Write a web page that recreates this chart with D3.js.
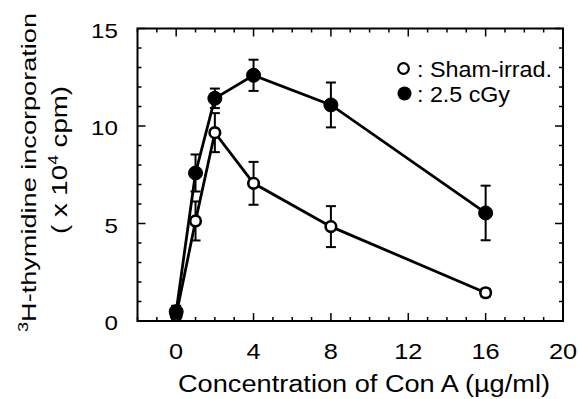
<!DOCTYPE html>
<html><head><meta charset="utf-8">
<script src="https://cdn.jsdelivr.net/npm/d3@7"></script>
<style>body{margin:0;background:#fff}svg{display:block}text{font-family:"Liberation Sans",Arial,sans-serif;fill:#000}</style>
</head><body>
<script>
const conc = [0, 1, 2, 4, 8, 16];
const shamMean = [0.3, 5.13, 9.66, 7.06, 4.84, 1.45];
const shamErr  = [0.2, 1.0, 1.0, 1.1, 1.05, 0.2];
const irrMean  = [0.48, 7.59, 11.42, 12.6, 11.08, 5.54];
const irrErr   = [0.3, 0.95, 0.5, 0.8, 1.15, 1.4];
const xTicks = [0, 4, 8, 12, 16, 20];
const yTicks = [0, 5, 10, 15];
const legendLabels = [": Sham-irrad.", ": 2.5 cGy"];

const W = 579, H = 399;
const L = 137.5, R = 563, T = 28.5, B = 321;
const svg = d3.select("body").append("svg").attr("width", W).attr("height", H);
const x = d3.scaleLinear().domain([-2, 20]).range([L, R]);
const y = d3.scaleLinear().domain([0, 15]).range([B, T]);

function stretch(sel, k) {
  sel.each(function() {
    const w = this.getComputedTextLength();
    d3.select(this).attr("textLength", w * k).attr("lengthAdjust", "spacingAndGlyphs");
  });
}

// frame
svg.append("rect").attr("x", L).attr("y", T).attr("width", R - L).attr("height", B - T)
  .attr("fill", "none").attr("stroke", "#000").attr("stroke-width", 2);

// ticks (inward on all sides)
const xMinor = d3.range(-2, 21, 1);
const yMinor = d3.range(0, 16, 1);
const g = svg.append("g").attr("stroke", "#000").attr("stroke-width", 1.5);
xMinor.forEach(v => {
  const len = (v % 4 === 0) ? 8 : 4;
  g.append("line").attr("x1", x(v)).attr("x2", x(v)).attr("y1", B).attr("y2", B - len);
  g.append("line").attr("x1", x(v)).attr("x2", x(v)).attr("y1", T).attr("y2", T + len);
});
yMinor.forEach(v => {
  const len = (v % 5 === 0) ? 8 : 4;
  g.append("line").attr("y1", y(v)).attr("y2", y(v)).attr("x1", L).attr("x2", L + len);
  g.append("line").attr("y1", y(v)).attr("y2", y(v)).attr("x1", R).attr("x2", R - len);
});

// tick labels
stretch(svg.selectAll(".xt").data(xTicks).enter().append("text")
  .attr("x", d => x(d)).attr("y", 359).attr("text-anchor", "middle")
  .attr("font-size", 22).text(d => d), 1.15);
stretch(svg.selectAll(".yt").data(yTicks).enter().append("text")
  .attr("x", 118).attr("y", d => y(d) + 9).attr("text-anchor", "end")
  .attr("font-size", 21).text(d => d), 1.15);

// axis titles
svg.append("text").attr("x", 364).attr("y", 392).attr("text-anchor", "middle")
  .attr("font-size", 23).attr("textLength", 372).attr("lengthAdjust", "spacingAndGlyphs")
  .text("Concentration of Con A (\u00b5g/ml)");
const yl = svg.append("text").attr("transform", "translate(36,172.5) rotate(-90)")
  .attr("text-anchor", "middle").attr("font-size", 21)
  .attr("textLength", 319).attr("lengthAdjust", "spacingAndGlyphs");
yl.append("tspan").attr("font-size", 14).attr("dy", -8).text("3");
yl.append("tspan").attr("dy", 8).text("H-thymidine incorporation");
const yl2 = svg.append("text").attr("transform", "translate(67,160) rotate(-90)")
  .attr("text-anchor", "middle").attr("font-size", 22)
  .attr("textLength", 148).attr("lengthAdjust", "spacingAndGlyphs");
yl2.append("tspan").text("( x 10");
yl2.append("tspan").attr("font-size", 14).attr("dy", -9).text("4");
yl2.append("tspan").attr("dy", 9).text(" cpm)");

const line = d3.line().x(d => x(d[0])).y(d => y(d[1]));
function series(means, errs, filled) {
  const pts = conc.map((c, i) => [c, means[i], errs[i]]);
  svg.append("path").datum(pts).attr("d", line).attr("fill", "none")
    .attr("stroke", "#000").attr("stroke-width", 2.8);
  const eb = svg.append("g").attr("stroke", "#000").attr("stroke-width", 2);
  pts.forEach(p => {
    eb.append("line").attr("x1", x(p[0])).attr("x2", x(p[0])).attr("y1", y(p[1] - p[2])).attr("y2", y(p[1] + p[2]));
    [p[1] - p[2], p[1] + p[2]].forEach(v => eb.append("line")
      .attr("x1", x(p[0]) - 5).attr("x2", x(p[0]) + 5).attr("y1", y(v)).attr("y2", y(v)));
  });
  svg.selectAll(null).data(pts).enter().append("circle")
    .attr("cx", d => x(d[0])).attr("cy", d => y(d[1]))
    .attr("r", filled ? 7 : 5.3)
    .attr("fill", filled ? "#000" : "#fff").attr("stroke", "#000").attr("stroke-width", filled ? 1 : 2.6);
}
series(shamMean, shamErr, false);
series(irrMean, irrErr, true);

// legend
svg.append("circle").attr("cx", 403.5).attr("cy", 68.5).attr("r", 5.3).attr("fill", "#fff").attr("stroke", "#000").attr("stroke-width", 2.2);
svg.append("circle").attr("cx", 404.5).attr("cy", 93.5).attr("r", 7).attr("fill", "#000");
const legLen = [135, 93];
legendLabels.forEach((t, i) => svg.append("text").attr("x", 417).attr("y", 76.5 + i * 25)
  .attr("font-size", 22).attr("textLength", legLen[i]).attr("lengthAdjust", "spacingAndGlyphs").text(t));
</script>
</body></html>
